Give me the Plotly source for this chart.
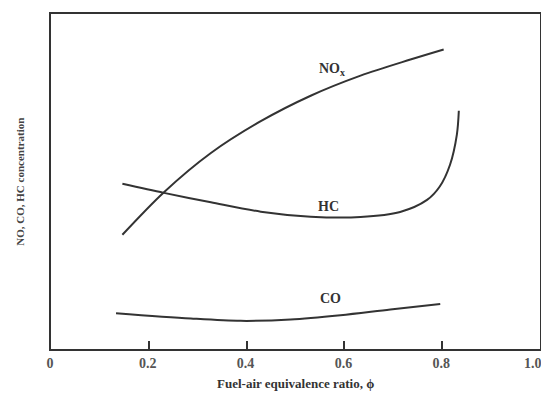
import plotly.graph_objects as go

# Data (x = equivalence ratio, y = relative concentration, 0-100)
nox_x = [0.146, 0.231, 0.327, 0.429, 0.531, 0.633, 0.735, 0.803]
nox_y = [34.1, 46.8, 58.5, 68.0, 75.6, 81.6, 86.4, 89.4]

hc_x = [0.146, 0.231, 0.327, 0.429, 0.531, 0.633, 0.714, 0.769, 0.795, 0.816, 0.830, 0.834]
hc_y = [49.3, 46.6, 43.8, 41.0, 39.5, 39.4, 40.9, 44.5, 48.5, 55.0, 64.0, 71.1]

co_x = [0.133, 0.286, 0.388, 0.49, 0.592, 0.694, 0.796]
co_y = [10.7, 9.1, 8.4, 8.8, 10.1, 11.8, 13.4]

x_ticks = [0, 0.2, 0.4, 0.6, 0.8, 1.0]
x_tick_text = ["0", "0.2", "0.4", "0.6", "0.8", ""]
last_tick_label = "1.0"

labels = [("NO<sub>x</sub>", 0.575, 83.5), ("HC", 0.567, 42.5), ("CO", 0.572, 15.0)]

SERIF = "Liberation Serif, Times New Roman, serif"
LINE = "#333333"

fig = go.Figure()
for xs, ys in [(nox_x, nox_y), (hc_x, hc_y), (co_x, co_y)]:
    fig.add_trace(go.Scatter(x=xs, y=ys, mode="lines",
                             line=dict(color=LINE, width=2, shape="spline", smoothing=0.9),
                             showlegend=False, hoverinfo="skip"))

for txt, lx, ly in labels:
    fig.add_annotation(x=lx, y=ly, text="<b>" + txt + "</b>", showarrow=False,
                       font=dict(family=SERIF, size=14, color="#333333"))

fig.add_annotation(xref="paper", yref="paper", x=-0.065, y=0.5, xanchor="center", yanchor="middle",
                   text="<b>NO, CO, HC concentration</b>", textangle=-90, showarrow=False,
                   font=dict(family=SERIF, size=11, color="#444444"))
fig.add_annotation(xref="paper", yref="paper", x=0.5, y=-0.103, xanchor="center", yanchor="middle",
                   text="<b>Fuel-air equivalence ratio, ϕ</b>", showarrow=False,
                   font=dict(family=SERIF, size=13, color="#333333"))
fig.add_annotation(x=1.0, xref="x", yref="paper", y=-0.015, xanchor="center", yanchor="top",
                   xshift=-7, text="<b>" + last_tick_label + "</b>", showarrow=False,
                   font=dict(family=SERIF, size=14, color="#555555"))

fig.update_xaxes(range=[0, 1], tickvals=x_ticks,
                 ticktext=["<b>" + t + "</b>" if t else "" for t in x_tick_text],
                 ticks="inside", ticklen=8, tickwidth=2, tickcolor=LINE,
                 showline=True, linecolor=LINE, linewidth=2, mirror=True,
                 showgrid=False, zeroline=False, automargin=False,
                 ticklabelshift=-1,
                 tickfont=dict(family=SERIF, size=14, color="#555555"))
fig.update_yaxes(range=[0, 100], showticklabels=False, ticks="",
                 showline=True, linecolor=LINE, linewidth=2, mirror=True,
                 showgrid=False, zeroline=False, automargin=False)

fig.update_layout(width=549, height=399, margin=dict(l=43, r=17, t=6, b=58),
                  plot_bgcolor="white", paper_bgcolor="white")

fig.write_html("out.html")
